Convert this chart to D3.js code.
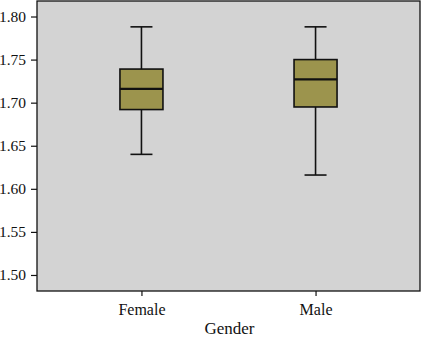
<!DOCTYPE html>
<html lang="en">
<head>
  <meta charset="UTF-8">
  <title>Height by Gender</title>
  <style>
    body { margin: 0; background: #fff; }
    svg text { font-family: "Liberation Serif", "DejaVu Serif", serif; fill: #111; }
  </style>
</head>
<body>
  <svg id="chart" width="422" height="339"></svg>
  <script src="https://d3js.org/d3.v7.min.js"></script>
  <script>
    const categories = ["Female", "Male"];
    const whiskerLow = [1.640, 1.616];
    const q1 = [1.692, 1.695];
    const median = [1.716, 1.727];
    const q3 = [1.739, 1.750];
    const whiskerHigh = [1.788, 1.788];
    const yTicks = [1.50, 1.55, 1.60, 1.65, 1.70, 1.75, 1.80];

    const margin = { top: 1, right: 2, bottom: 48, left: 37 };
    const width = 422 - margin.left - margin.right;
    const height = 339 - margin.top - margin.bottom;

    const svg = d3.select("#chart");
    const g = svg.append("g").attr("transform", `translate(${margin.left},${margin.top})`);

    const x = d3.scalePoint().domain(categories).range([0, width]).padding(0.6);
    const y = d3.scaleLinear().domain([1.4814, 1.818]).range([height, 0]);

    g.append("rect")
      .attr("width", width).attr("height", height)
      .attr("fill", "#d3d3d3").attr("stroke", "#111").attr("stroke-width", 1.3);

    // y axis
    const yAxis = g.append("g")
      .call(d3.axisLeft(y).tickValues(yTicks).tickFormat(d3.format(".2f")).tickSize(6).tickPadding(5));
    yAxis.select(".domain").remove();
    yAxis.selectAll("text").attr("font-size", 15.5).attr("fill", "#111");
    yAxis.selectAll("line").attr("stroke", "#111").attr("stroke-width", 1.2);

    // x axis
    const xAxis = g.append("g")
      .attr("transform", `translate(0,${height})`)
      .call(d3.axisBottom(x).tickSize(5).tickPadding(8));
    xAxis.select(".domain").remove();
    xAxis.selectAll("text").attr("font-size", 16).attr("fill", "#111");
    xAxis.selectAll("line").attr("stroke", "#111").attr("stroke-width", 1.2);

    g.append("text")
      .attr("x", width / 2 + 1).attr("y", height + 43)
      .attr("text-anchor", "middle").attr("font-size", 17)
      .text("Gender");

    const boxW = 43, capW = 22;
    const boxes = g.selectAll(".box").data(categories).enter().append("g")
      .attr("transform", d => `translate(${x(d)},0)`);

    boxes.append("line")
      .attr("y1", (d, i) => y(whiskerLow[i])).attr("y2", (d, i) => y(whiskerHigh[i]))
      .attr("stroke", "#111").attr("stroke-width", 1.6);
    boxes.append("line")
      .attr("x1", -capW / 2).attr("x2", capW / 2)
      .attr("y1", (d, i) => y(whiskerHigh[i])).attr("y2", (d, i) => y(whiskerHigh[i]))
      .attr("stroke", "#111").attr("stroke-width", 1.6);
    boxes.append("line")
      .attr("x1", -capW / 2).attr("x2", capW / 2)
      .attr("y1", (d, i) => y(whiskerLow[i])).attr("y2", (d, i) => y(whiskerLow[i]))
      .attr("stroke", "#111").attr("stroke-width", 1.6);
    boxes.append("rect")
      .attr("x", -boxW / 2).attr("width", boxW)
      .attr("y", (d, i) => y(q3[i])).attr("height", (d, i) => y(q1[i]) - y(q3[i]))
      .attr("fill", "#9c944d").attr("stroke", "#111").attr("stroke-width", 1.6);
    boxes.append("line")
      .attr("x1", -boxW / 2).attr("x2", boxW / 2)
      .attr("y1", (d, i) => y(median[i])).attr("y2", (d, i) => y(median[i]))
      .attr("stroke", "#111").attr("stroke-width", 2.2);
  </script>
</body>
</html>
